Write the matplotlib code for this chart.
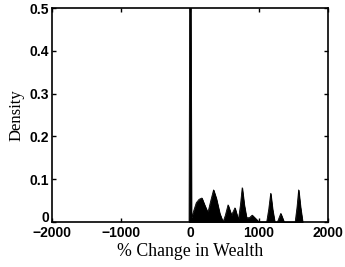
import matplotlib
matplotlib.use("Agg")
import matplotlib.pyplot as plt
import matplotlib.transforms as mtransforms

# Density curve (x in % change, y density)
wealth_change = [-15, -5, 8, 20, 50, 90, 130, 171, 210, 258, 300, 340, 380, 430,
                 477, 510, 550, 600, 650, 700, 730, 755, 785, 818, 860, 900, 950,
                 1000, 1110, 1140, 1168, 1195, 1227, 1266, 1314, 1362, 1523, 1550,
                 1573, 1600, 1631]
density = [0, 0.6, 0.6, 0.01, 0.025, 0.045, 0.053, 0.056, 0.04, 0.022, 0.05, 0.075,
           0.055, 0.02, 0.0, 0.015, 0.04, 0.016, 0.033, 0.005, 0.04, 0.08, 0.04,
           0.01, 0.01, 0.016, 0.008, 0.0, 0.0, 0.03, 0.067, 0.03, 0.0, 0.0, 0.02,
           0.0, 0.0, 0.035, 0.075, 0.035, 0.0]

xticks = [-2000, -1000, 0, 1000, 2000]
yticks = [0, 0.1, 0.2, 0.3, 0.4, 0.5]
ytick_labels = ["0", "0.1", "0.2", "0.3", "0.4", "0.5"]

fig = plt.figure(figsize=(3.45, 2.67), dpi=100)
ax = fig.add_axes([0.151, 0.1685, 0.80, 0.8015])
ax.fill_between(wealth_change, density, 0, color="black", linewidth=0.6)
ax.plot(wealth_change, density, color="black", linewidth=0.6)
ax.set_xlim(-2000, 2000)
ax.set_ylim(0, 0.5)

tick_font = dict(family="Liberation Sans", weight="bold", size=10)
ax.set_xticks(xticks)
ax.set_xticklabels([str(t).replace("-", "\u2212") for t in xticks], **tick_font)
ax.set_yticks(yticks)
ax.set_yticklabels(ytick_labels, **tick_font)
ax.tick_params(direction="in", length=3, width=1, top=True, right=True, pad=2)
ax.tick_params(axis="x", pad=3)
for s in ax.spines.values():
    s.set_linewidth(1.2)

# nudge the bottom y tick label up slightly so it doesn't collide with -2000
zero_lbl = ax.get_yticklabels()[0]
zero_lbl.set_transform(zero_lbl.get_transform() +
                       mtransforms.ScaledTranslation(0, 4 / 72, fig.dpi_scale_trans))

ax.set_xlabel("% Change in Wealth", labelpad=2, family="Liberation Serif", size=12.8)
ax.set_ylabel("Density", labelpad=4, family="Liberation Serif", size=12)

fig.savefig("out.png", dpi=100)
